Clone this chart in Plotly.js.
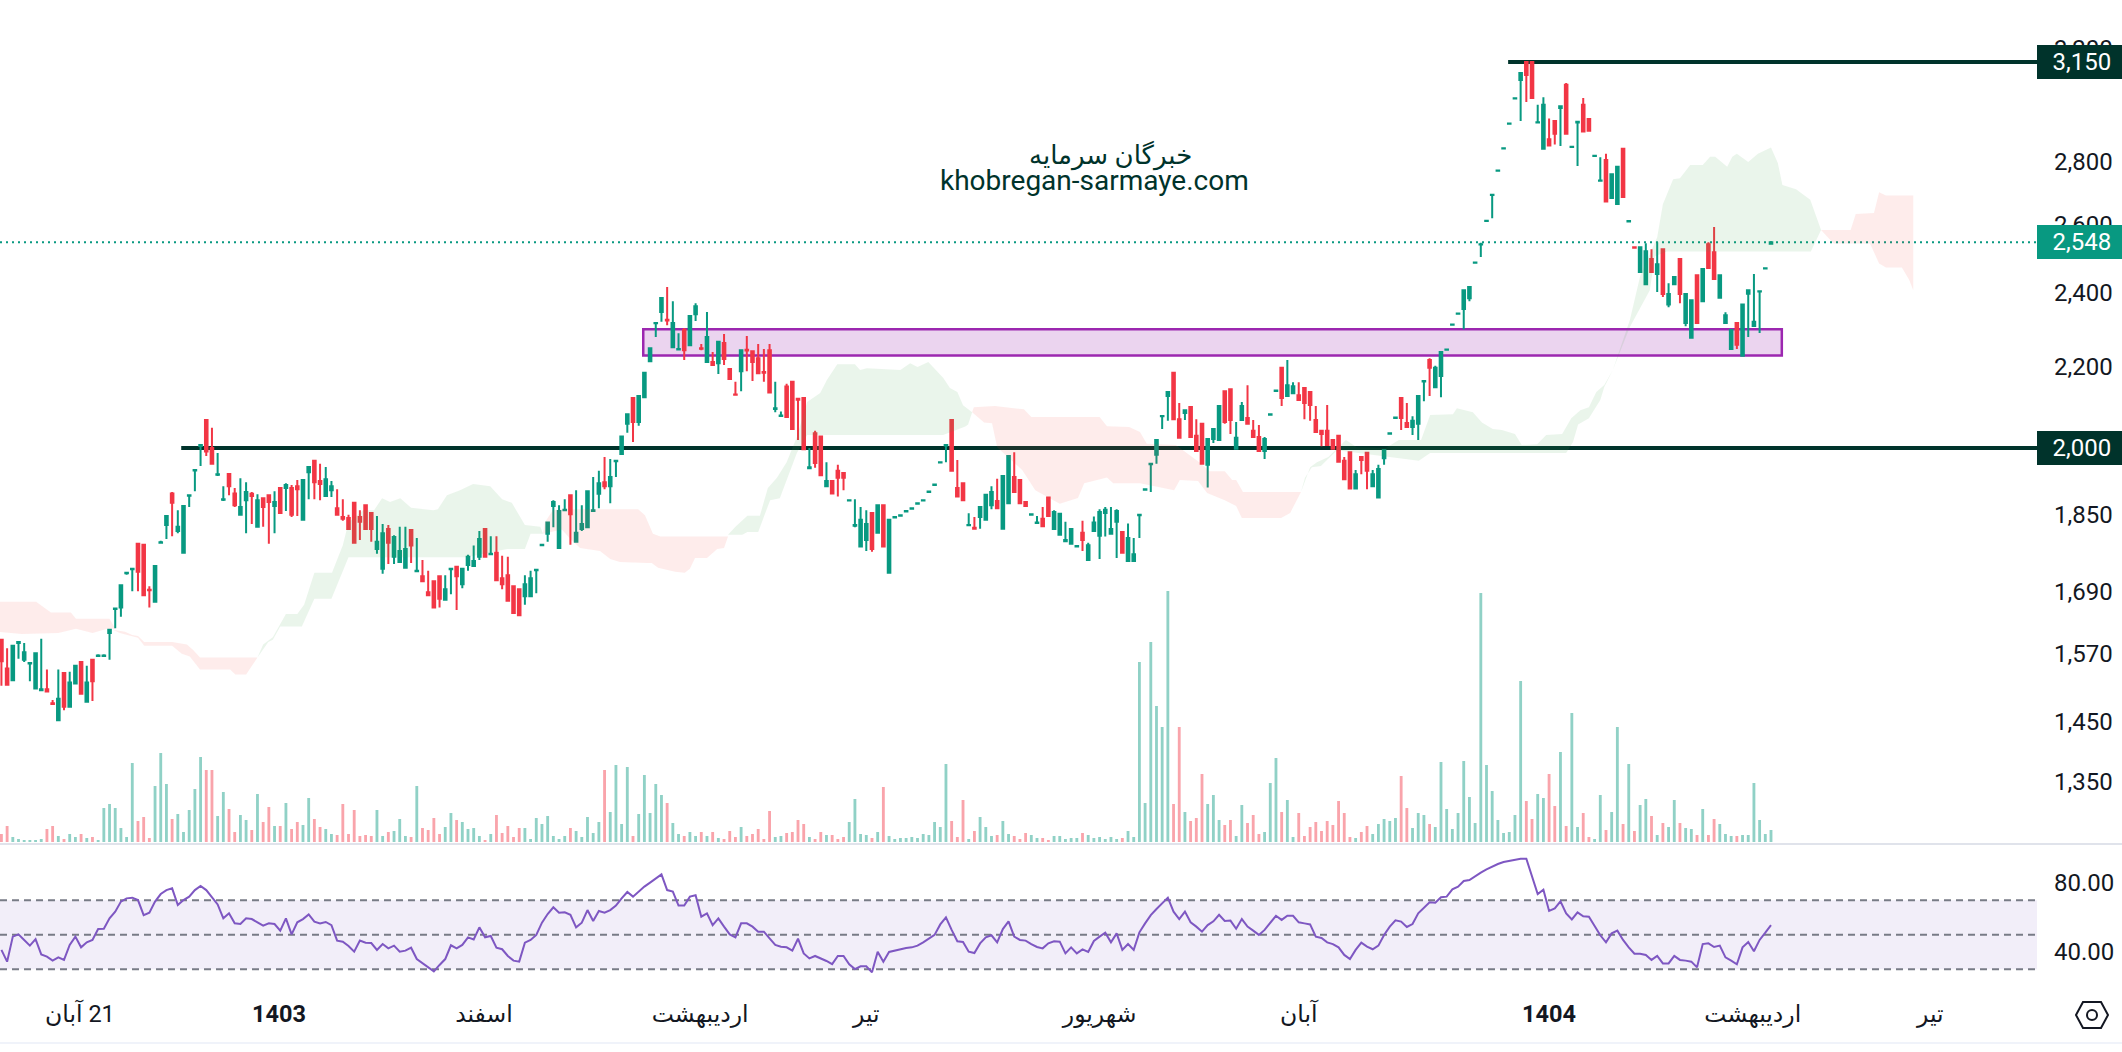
<!DOCTYPE html>
<html><head><meta charset="utf-8">
<script src="https://cdn.plot.ly/plotly-3.0.1.min.js"></script>
<style>html,body{margin:0;padding:0;background:#fff}#c{width:2122px;height:1052px}</style></head>
<body><div id="c"></div>
<script>
// [open, high, low, close]
const candles = [
[1596,1596,1512,1556],[1543,1580,1514,1514],[1522,1585,1522,1585],[1590,1592,1561,1592],[1559,1590,1555,1573],[1552,1554,1520,1553],[1507,1571,1507,1571],[1504,1598,1504,1506],[1506,1541,1502,1502],[1481,1487,1478,1480],
[1452,1541,1452,1489],[1535,1535,1469,1475],[1475,1537,1475,1518],[1516,1548,1516,1548],[1555,1555,1498,1498],[1484,1548,1484,1518],[1559,1559,1485,1520],[1566,1569,1564,1567],[1566,1569,1564,1567],[1609,1615,1559,1615],
[1655,1657,1618,1656],[1658,1702,1640,1702],[1726,1729,1723,1727],[1734,1737,1690,1735],[1787,1787,1690,1729],[1785,1785,1682,1682],[1693,1700,1658,1692],[1669,1741,1667,1741],[1789,1793,1787,1790],[1827,1846,1797,1846],
[1896,1899,1803,1875],[1814,1859,1809,1823],[1768,1868,1768,1868],[1891,1894,1866,1892],[1948,1951,1901,1949],[2005,2008,1958,2007],[2067,2067,1981,1992],[2000,2048,1963,1963],[1938,1988,1935,1939],[1882,1912,1879,1883],
[1940,1940,1892,1912],[1896,1908,1866,1870],[1849,1930,1849,1866],[1881,1921,1809,1899],[1895,1899,1829,1890],[1823,1894,1823,1881],[1885,1885,1823,1866],[1892,1892,1787,1877],[1868,1901,1809,1877],[1908,1908,1853,1853],
[1908,1919,1857,1915],[1908,1915,1844,1849],[1912,1926,1846,1905],[1838,1926,1838,1926],[1944,1956,1883,1956],[1970,1970,1883,1921],[1924,1963,1881,1917],[1890,1956,1890,1928],[1903,1924,1888,1912],[1863,1905,1849,1849],
[1844,1883,1836,1840],[1842,1849,1818,1818],[1875,1875,1787,1789],[1844,1859,1795,1834],[1870,1870,1818,1818],[1853,1853,1791,1818],[1776,1846,1766,1791],[1735,1829,1725,1809],[1818,1827,1745,1789],[1760,1805,1745,1801],
[1749,1823,1749,1772],[1737,1823,1737,1776],[1816,1816,1747,1783],[1730,1799,1729,1731],[1720,1753,1710,1710],[1688,1731,1682,1682],[1710,1710,1658,1658],[1720,1720,1658,1675],[1673,1722,1673,1694],[1734,1736,1684,1735],
[1739,1739,1653,1720],[1704,1735,1696,1735],[1743,1764,1731,1760],[1741,1783,1741,1751],[1760,1814,1753,1797],[1818,1818,1760,1760],[1765,1803,1765,1766],[1768,1803,1712,1712],[1716,1762,1694,1704],[1722,1760,1671,1671],
[1700,1700,1647,1647],[1694,1694,1643,1643],[1680,1722,1663,1704],[1680,1731,1680,1716],[1732,1734,1686,1733],[1784,1787,1782,1785],[1808,1832,1791,1832],[1868,1881,1822,1877],[1778,1870,1777,1857],[1859,1883,1857,1860],
[1892,1894,1785,1850],[1791,1903,1791,1810],[1818,1870,1814,1829],[1822,1901,1822,1901],[1857,1933,1857,1859],[1895,1947,1863,1919],[1921,1979,1905,1912],[1912,1974,1874,1933],[1969,1972,1933,1970],[1986,2027,1986,2027],
[2058,2081,2036,2081],[2121,2121,2014,2062],[2062,2126,2053,2126],[2123,2185,2123,2185],[2215,2249,2215,2249],[2316,2319,2279,2317],[2347,2386,2320,2386],[2326,2417,2311,2324],[2252,2377,2252,2317],[2246,2289,2244,2247],
[2298,2303,2218,2244],[2257,2336,2257,2336],[2341,2371,2322,2363],[2249,2260,2244,2248],[2213,2347,2213,2279],[2213,2239,2205,2205],[2210,2266,2182,2266],[2263,2287,2205,2221],[2195,2195,2169,2169],[2130,2162,2127,2129],
[2189,2244,2138,2244],[2245,2282,2189,2243],[2241,2241,2164,2213],[2223,2260,2184,2184],[2187,2247,2162,2185],[2244,2260,2135,2135],[2094,2162,2086,2096],[2077,2088,2074,2078],[2150,2157,2074,2074],[2162,2162,2045,2045],
[2119,2119,2019,2117],[2121,2121,1997,1997],[1953,2000,1953,1955],[2035,2041,1954,1965],[2027,2027,1937,1937],[1912,1967,1912,1924],[1924,1924,1896,1896],[1947,1961,1889,1931],[1942,1942,1903,1931],[1880,1883,1878,1881],
[1825,1883,1822,1827],[1781,1866,1781,1838],[1795,1859,1772,1829],[1853,1853,1770,1776],[1810,1870,1810,1870],[1870,1870,1781,1781],[1727,1838,1727,1838],[1843,1846,1842,1844],[1847,1850,1846,1848],[1856,1859,1855,1857],
[1862,1865,1861,1863],[1873,1876,1872,1874],[1880,1883,1879,1881],[1899,1902,1898,1900],[1915,1918,1914,1916],[1966,1969,1965,1967],[2006,2009,1967,2007],[2067,2067,1947,1947],[1908,1972,1889,1889],[1919,1919,1881,1881],
[1826,1852,1825,1827],[1821,1844,1819,1819],[1844,1866,1819,1866],[1838,1893,1838,1893],[1870,1912,1861,1899],[1879,1929,1863,1863],[1819,1935,1819,1935],[1874,1981,1874,1981],[1933,1990,1899,1899],[1926,1926,1874,1874],
[1877,1877,1868,1868],[1849,1852,1848,1850],[1831,1846,1829,1832],[1840,1866,1824,1824],[1887,1887,1846,1846],[1818,1859,1818,1855],[1806,1853,1806,1851],[1792,1834,1792,1795],[1787,1818,1787,1818],[1781,1784,1779,1782],
[1810,1836,1772,1795],[1753,1789,1753,1784],[1814,1845,1812,1832],[1804,1861,1755,1855],[1853,1866,1802,1860],[1808,1866,1808,1818],[1834,1861,1757,1857],[1812,1812,1768,1768],[1751,1830,1751,1799],[1751,1799,1751,1765],
[1848,1850,1799,1849],[1904,1907,1903,1905],[1962,1964,1899,1963],[1984,2019,1963,2019],[2076,2079,2045,2077],[2126,2136,2065,2136],[2185,2185,2069,2069],[2069,2109,2024,2024],[2084,2091,2067,2091],[2099,2101,2026,2026],
[2029,2069,1993,1993],[2058,2058,1963,1963],[1961,2021,1909,2021],[2021,2045,2012,2045],[2019,2101,2019,2101],[2138,2138,2058,2062],[2143,2143,2033,2067],[1998,2062,1998,2024],[2067,2111,2067,2101],[2072,2153,2058,2058],
[2041,2067,2026,2026],[2026,2055,1993,1993],[1993,2026,1974,2021],[2080,2083,2079,2081],[2139,2142,2138,2140],[2198,2198,2101,2121],[2126,2218,2126,2153],[2133,2161,2133,2151],[2128,2161,2116,2116],[2146,2146,2069,2109],
[2136,2136,2065,2104],[2067,2101,2038,2038],[2041,2041,2004,2033],[2041,2104,2007,2007],[2019,2019,1998,1998],[2029,2029,1968,1968],[1970,1979,1928,1928],[1990,1990,1907,1907],[1907,1949,1907,1939],[1979,1979,1939,1972],
[1989,1990,1905,1947],[1912,1949,1912,1939],[1887,1961,1887,1951],[1976,1995,1961,1995],[2034,2037,2033,2035],[2072,2075,2070,2073],[2121,2121,2043,2072],[2060,2109,2050,2050],[2050,2076,2031,2065],[2058,2126,2019,2126],
[2163,2166,2113,2164],[2218,2223,2126,2198],[2148,2203,2148,2198],[2177,2239,2123,2239],[2245,2248,2244,2246],[2312,2315,2311,2313],[2342,2345,2341,2343],[2355,2408,2300,2408],[2385,2417,2377,2417],[2487,2489,2486,2488],
[2541,2546,2504,2542],[2612,2616,2610,2613],[2693,2696,2621,2694],[2771,2774,2770,2772],[2845,2848,2844,2846],[2929,2932,2928,2930],[3017,3020,3016,3018],[3084,3109,2938,3109],[3150,3150,3005,3102],[3150,3150,3019,3019],
[2933,2995,2932,2934],[2844,3022,2844,2995],[2876,2947,2855,2855],[2938,2942,2858,2895],[2984,2990,2853,2990],[3066,3073,2895,2895],[2850,2853,2849,2851],[2933,2936,2787,2936],[2995,3019,2902,2902],[2945,2945,2905,2905],
[2820,2823,2819,2821],[2739,2816,2738,2740],[2807,2827,2673,2673],[2684,2760,2684,2760],[2665,2784,2665,2784],[2844,2844,2687,2687],[2611,2615,2609,2612],[2533,2535,2529,2531],[2460,2536,2458,2533],[2425,2545,2425,2521],
[2498,2527,2460,2460],[2454,2548,2403,2483],[2527,2527,2389,2397],[2368,2428,2360,2397],[2425,2446,2425,2446],[2498,2498,2371,2397],[2317,2397,2308,2397],[2277,2380,2277,2380],[2451,2451,2317,2317],[2377,2472,2377,2469],
[2542,2548,2472,2472],[2518,2594,2440,2440],[2387,2451,2384,2451],[2317,2346,2317,2338],[2247,2298,2247,2298],[2317,2317,2247,2258],[2229,2368,2229,2368],[2398,2408,2279,2408],[2309,2454,2309,2320],[2404,2408,2290,2405],
[2470,2473,2469,2471],[2543,2550,2542,2548]];

const volumes = [
8,16,5,3,2,2,2,3,13,16, 6,3,8,5,8,4,5,2,34,38, 34,14,5,79,21,25,4,56,89,58, 23,28,10,32,53,85,72,72,26,50,
33,10,27,22,12,48,20,35,16,16, 39,13,20,17,44,23,15,13,8,7, 38,8,32,6,7,6,32,6,10,11, 23,6,5,56,14,12,24,8,15,29,
22,20,13,14,6,2,8,27,9,16, 5,14,14,3,24,18,26,6,3,6, 14,11,5,25,9,20,72,30,77,18, 75,6,28,67,29,58,47,39,19,8,
6,10,6,10,6,10,4,3,11,5, 15,6,8,13,3,31,5,6,9,10, 22,18,5,3,10,7,7,3,5,20, 43,8,7,4,10,55,6,3,4,4,
5,4,8,7,20,15,78,21,5,42, 3,11,25,15,6,7,21,8,6,3, 9,7,4,4,2,6,6,3,4,4, 9,7,4,5,3,5,3,4,11,5,
180,39,200,136,115,251,38,115,30,21, 24,68,38,47,22,17,22,6,37,19, 27,8,10,59,84,30,42,5,29,6, 15,20,11,21,17,41,29,5,4,10,
16,8,18,23,21,24,66,34,14,29, 27,18,15,80,33,13,29,81,45,19, 249,77,51,22,9,10,27,161,41,23, 48,44,68,36,90,16,129,15,29,5,
3,47,12,30,115,18,78,11,37,43, 26,7,19,15,42,19,14,13,7,33, 7,23,18,8,6,6,7,7,59,22, 8,12];

const rsiValues = [
41.2,34.4,48.9,50.2,47.0,43.7,47.5,38.6,37.3,35.0, 36.9,35.4,44.1,48.9,42.7,45.6,47.0,53.3,53.5,59.5,
63.4,69.2,71.1,71.5,70.1,61.4,62.8,69.2,73.6,75.9, 76.9,67.2,70.1,72.1,75.9,78.3,75.9,71.7,67.6,59.5,
62.4,56.6,56.2,59.5,59.1,57.2,55.3,56.6,56.2,52.4, 59.5,50.2,57.2,59.1,61.8,57.6,56.6,57.4,55.6,46.6,
46.0,43.5,40.2,46.6,45.4,45.2,41.2,44.6,42.1,43.7, 40.2,40.8,42.5,35.9,33.4,31.1,28.8,32.5,35.9,43.9,
42.1,44.1,48.5,47.3,54.3,48.5,49.3,42.5,41.6,37.7, 35.0,34.4,45.4,47.0,49.9,57.0,62.0,65.9,62.8,63.0,
61.6,54.3,57.0,64.3,58.0,63.8,62.8,64.3,66.9,71.1, 74.8,72.1,75.0,77.9,80.2,82.7,85.0,75.9,75.0,66.9,
66.9,72.1,72.9,60.5,62.4,55.6,59.5,54.7,50.2,48.5, 56.6,56.6,54.7,51.8,51.8,47.9,44.1,43.1,42.7,40.8,
47.7,39.2,36.3,37.7,36.3,34.8,33.0,37.7,37.7,32.9, 30.1,31.7,31.7,28.2,40.2,34.4,40.0,40.8,41.4,42.3,
42.7,43.7,45.6,47.9,49.9,56.0,60.1,52.8,46.2,45.8, 40.2,39.4,45.0,48.5,49.7,45.6,53.3,57.8,48.9,47.0,
46.6,44.6,42.9,42.1,45.0,46.2,46.0,
39.2,42.7,39.2,41.5,40.0,46.4,48.9,51.2,45.6,50.8, 41.2,44.6,41.2,51.4,56.6,61.4,64.9,68.2,71.5,63.4,
59.1,63.4,57.2,54.7,51.8,55.6,57.8,61.6,58.0,58.2, 53.5,59.1,54.7,52.4,49.9,52.8,57.0,61.0,58.6,61.0,
61.0,57.2,56.6,56.0,48.9,48.1,45.6,44.6,42.7,38.3, 35.9,41.2,45.4,43.1,41.6,43.7,49.9,54.7,58.4,57.6,
54.5,56.2,62.4,65.7,68.8,68.6,71.7,72.1,76.3,77.9, 81.2,81.7,84.0,86.0,87.9,89.5,91.0,92.2,92.9,93.7,
94.1,94.1,83.7,73.6,76.1,63.8,65.3,69.4,62.4,58.9, 63.0,60.7,60.5,54.7,49.7,45.6,50.8,52.4,47.0,42.7,
39.0,39.0,38.3,35.4,37.7,33.4,33.4,37.7,35.4,35.0, 34.4,31.1,44.6,45.0,42.9,43.7,36.9,35.0,32.9,42.7,
45.8,40.4,47.0,51.2,55.6];

// Ichimoku cloud edges, section by section: bar positions and prices
const redA_x1=[-0.3,6.1,8.7,12.2,13.1,19,20], redA_p1=[1669,1669,1648,1648,1636,1636,1617];
const redA_x2=[-0.3,3.6,10,13.1,16,18.6,20], redA_p2=[1611,1607,1609,1617,1609,1617,1617];
const redB_x1=[19.6,21.7,23,24,25.1,30,32.6,33.7,34.9,45], redB_p1=[1615,1611,1605,1603,1592,1592,1587,1577,1563,1563];
const redB_x2=[19.6,20.8,22.3,24,25.1,30,31.7,33.1,34.9,40.2,41.1,43,45], redB_p2=[1615,1609,1605,1600,1585,1585,1570,1565,1541,1541,1532,1532,1563];
const greenA_x1=[45,46,47.7,50,52,53.2,55,58.1,60,61,63.6,65.5,66.9,68.3,70.1,72,75.9,76.7,78.3,80.6,82.9,85.9,88,89.7,92,94.7,95.2];
const greenA_p1=[1563,1587,1601,1645,1645,1663,1727,1727,1784,1832,1859,1859,1885,1877,1885,1864,1859,1861,1892,1903,1917,1912,1883,1875,1827,1823,1808];
const greenA_x2=[45,46.9,47.7,49,52.8,55,58,61,81.8,86.4,88.9,92,93,95.2];
const greenA_p2=[1563,1592,1596,1621,1621,1675,1675,1759,1759,1770,1776,1776,1808,1808];
const redC_x1=[95.2,95.5,96.9,98.7,111.9,113.1,114.5,115.8,126.8,127.7], redC_p1=[1808,1832,1859,1861,1861,1848,1808,1802,1802,1802];
const redC_x2=[95.2,98.5,100,101.7,105.2,107,108.7,113.5,114.3,115.4,118.4,120.1,121,121.9,124,125.8,127,127.7];
const redC_p2=[1808,1817,1797,1778,1772,1755,1749,1747,1747,1737,1729,1727,1735,1757,1757,1776,1778,1802];
const greenB_x1=[127.7,129,131.1,133.3,134.7,136.3,138,139.8,141.6,143.9,145.1,146.9,150,150.9,152.1,158,159.7,161,162.9,165.5,166.7,168,169,170.6];
const greenB_p1=[1806,1823,1847,1847,1908,1931,1967,2026,2111,2134,2167,2207,2207,2192,2197,2192,2210,2200,2213,2172,2146,2136,2103,2086];
const greenB_x2=[127.7,130.2,131.1,133,135.1,136.8,139.8,141.6,165.5,169.4,169.9,170.6];
const greenB_p2=[1806,1806,1812,1812,1881,1885,1988,2031,2031,2051,2056,2086];
const redD_x1=[170.6,170.9,174.6,179.7,181,193,194.3,198.2,200.1,201.3,206.4,210.7,212.3,215,216.3,217,218.2,228.4];
const redD_p1=[2086,2098,2101,2093,2074,2074,2052,2050,2038,2010,2007,1965,1946,1946,1926,1926,1899,1899];
const redD_x2=[170.6,172.7,174.1,175,179.4,181.7,186,189.2,190.3,194.3,195.4,200.1,206.1,207.1,210.3,211.9,215,217,218,224.9,226.5,228.4];
const redD_p2=[2086,2061,2059,2002,1949,1903,1873,1886,1919,1932,1919,1919,1903,1926,1924,1897,1881,1868,1842,1842,1853,1899];
const greenC_x1=[228.4,230,231.2,233.2,236.3,238.2,243.3,245.6,249.5,251.1,255.1,255.8,258.6,260.2,262.1,263.7,266,267.2,269.9,271.5,274.3,275.9,277.5,279,280.3,281.7,283.2,286.2,288,291,292,293.8,295,296.8,299,300.3,301.2,303.3,304.2,305,307,308.7,311,312.2,313,315.4,317.9,319.8];
const greenC_p1=[1899,1955,1967,1979,2019,2002,2000,2019,2019,2079,2081,2096,2086,2061,2045,2043,2033,2007,2009,2031,2033,2071,2091,2098,2136,2154,2192,2325,2448,2563,2664,2744,2747,2790,2790,2817,2817,2784,2817,2827,2800,2827,2848,2797,2725,2712,2678,2585];
const greenC_x2=[228.4,229.1,230.3,231.9,233.2,234.7,249.1,251.1,275,276.2,277.1,279,281,281.7,283.2,286.2,289.7,290.6,292.7,318,319.8];
const greenC_p2=[1899,1931,1955,1958,1976,1995,1970,1988,1988,2014,2056,2071,2116,2149,2192,2306,2408,2506,2520,2520,2585];
const redE_x1=[319.8,325,325.9,329.1,330,331.2,336], redE_p1=[2585,2585,2634,2637,2702,2692,2692];
const redE_x2=[319.8,322,328.4,330,331.2,334,335.3,336], redE_p2=[2585,2544,2544,2485,2473,2473,2437,2408];

const priceTicks = [1350,1450,1570,1690,1850,2200,2400,2600,2800,3200];
const priceTickText = ['1,350','1,450','1,570','1,690','1,850','2,200','2,400','2,600','2,800','3,200'];
const rsiTicks = [40,80];
const rsiTickText = ['40.00','80.00'];
const timeTicks = [13.8,48.8,84.8,122.8,152,193,228,272,307.8,339];
const timeTickText = ['\u200F21 آبان','<b>1403</b>','اسفند','اردیبهشت','تیر','شهریور','آبان','<b>1404</b>','اردیبهشت','تیر'];
const supportLevel = 2000, peakLevel = 3150, lastLevel = 2548;
const zoneHigh = 2300, zoneLow = 2230;
const bandHigh = 70, bandMid = 50, bandLow = 30;

const UP='#089981', DOWN='#F23645', DARK='#00332B', INK='#131722';
const FONT='Roboto, "Noto Sans", "DejaVu Sans", sans-serif';
const W=2122, H=1052;
const fy=y=>1-y/H, fx=x=>x/W;
const xs=candles.map((_,i)=>i);
const xStart=-0.25, xEnd=357.75;

function cloud(x1,p1,x2,p2,col){
  return {type:'scatter',mode:'lines',x:x1.concat(x2.slice().reverse()),y:p1.concat(p2.slice().reverse()),
    xaxis:'x',yaxis:'y',fill:'toself',fillcolor:col,line:{width:0},hoverinfo:'skip',showlegend:false};
}
const G='rgba(67,160,71,0.11)', R='rgba(244,67,54,0.10)';
const traces=[
  cloud(redA_x1,redA_p1,redA_x2,redA_p2,R),
  cloud(redB_x1,redB_p1,redB_x2,redB_p2,R),
  cloud(greenA_x1,greenA_p1,greenA_x2,greenA_p2,G),
  cloud(redC_x1,redC_p1,redC_x2,redC_p2,R),
  cloud(greenB_x1,greenB_p1,greenB_x2,greenB_p2,G),
  cloud(redD_x1,redD_p1,redD_x2,redD_p2,R),
  cloud(greenC_x1,greenC_p1,greenC_x2,greenC_p2,G),
  cloud(redE_x1,redE_p1,redE_x2,redE_p2,R),
  {type:'candlestick',x:xs,open:candles.map(c=>c[0]),high:candles.map(c=>c[1]),low:candles.map(c=>c[2]),close:candles.map(c=>c[3]),
   xaxis:'x',yaxis:'y',whiskerwidth:0,hoverinfo:'skip',showlegend:false,
   increasing:{line:{color:UP,width:2},fillcolor:UP},decreasing:{line:{color:DOWN,width:2},fillcolor:DOWN}},
  {type:'bar',x:xs,y:volumes,xaxis:'x',yaxis:'y3',width:0.5,hoverinfo:'skip',showlegend:false,
   marker:{color:candles.map(c=>c[3]>=c[0]?'rgba(8,153,129,0.45)':'rgba(242,54,69,0.45)'),line:{width:0}}},
  {type:'scatter',mode:'lines',x:xs,y:rsiValues,xaxis:'x',yaxis:'y2',line:{color:'#7E57C2',width:2},hoverinfo:'skip',showlegend:false}
];

const hex=[[2076,1015],[2083,1002],[2101,1002],[2108,1015],[2101,1028],[2083,1028]];
const hexPath='M'+hex.map(p=>fx(p[0])+' '+fy(p[1])).join('L')+'Z';
function hline(level,x0,yref,col,width,dash){
  return {type:'line',xref:'x',yref:yref,x0:x0,x1:xEnd,y0:level,y1:level,layer:'below',line:{color:col,width:width,dash:dash||'solid'}};
}
const shapes=[
  {type:'rect',xref:'x',yref:'y',x0:112.8,x1:312.9,y0:zoneLow,y1:zoneHigh,layer:'below',fillcolor:'rgba(156,39,176,0.2)',line:{color:'#9C27B0',width:2.5}},
  hline(supportLevel,31.6,'y',DARK,4),
  hline(peakLevel,264.8,'y',DARK,4),
  hline(lastLevel,xStart,'y',UP,2,'2px,4px'),
  {type:'rect',xref:'x',yref:'y2',x0:xStart,x1:xEnd,y0:bandLow,y1:bandHigh,layer:'below',fillcolor:'rgba(126,87,194,0.1)',line:{width:0}},
  hline(bandHigh,xStart,'y2','#787B86',2,'7px,5px'),
  hline(bandMid,xStart,'y2','#787B86',2,'7px,5px'),
  hline(bandLow,xStart,'y2','#787B86',2,'7px,5px'),
  {type:'line',xref:'paper',yref:'paper',x0:0,x1:1,y0:fy(844),y1:fy(844),line:{color:'#E0E3EB',width:2}},
  {type:'line',xref:'paper',yref:'paper',x0:0,x1:1,y0:fy(1043),y1:fy(1043),line:{color:'#F0F3FA',width:2}},
  {type:'path',xref:'paper',yref:'paper',path:hexPath,line:{color:INK,width:2}},
  {type:'circle',xref:'paper',yref:'paper',x0:fx(2087),x1:fx(2097),y0:fy(1020),y1:fy(1010),line:{color:INK,width:2}}
];
function tag(level,col,label){
  return {xref:'paper',yref:'y',x:1,y:Math.log10(level),xanchor:'right',yanchor:'middle',text:label,showarrow:false,
    width:85,height:34,bgcolor:col,borderpad:0,borderwidth:0,align:'center',valign:'middle',font:{family:FONT,size:24,color:'#fff'}};
}
const annotations=[
  tag(peakLevel,DARK,'\u20093,150'),tag(supportLevel,DARK,'\u20092,000'),tag(lastLevel,UP,'\u20092,548'),
  {xref:'paper',yref:'paper',x:fx(1110),y:fy(155),xanchor:'center',yanchor:'middle',text:'خبرگان سرمایه',showarrow:false,font:{family:FONT,size:26,color:DARK}},
  {xref:'paper',yref:'paper',x:fx(1094),y:fy(180),xanchor:'center',yanchor:'middle',text:'khobregan-sarmaye.com',showarrow:false,font:{family:FONT,size:28,color:DARK}}
];

const layout={
  width:W,height:H,autosize:false,margin:{l:0,r:0,t:0,b:0},paper_bgcolor:'#fff',plot_bgcolor:'rgba(0,0,0,0)',showlegend:false,boxgap:0.35,hovermode:false,
  xaxis:{domain:[0,2037/W],range:[xStart,xEnd],anchor:'y2',showgrid:false,zeroline:false,showline:false,ticks:'',rangeslider:{visible:false},
    tickmode:'array',tickvals:timeTicks,ticktext:timeTickText,tickangle:0,tickfont:{family:FONT,size:23.5,color:INK}},
  yaxis:{domain:[fy(843),1],type:'log',range:[3.09921,3.52993],side:'right',anchor:'x',showgrid:false,zeroline:false,showline:false,ticks:'',
    tickmode:'array',tickvals:priceTicks,ticktext:priceTickText,tickfont:{family:FONT,size:24,color:INK},ticklabelstandoff:16},
  yaxis2:{domain:[fy(997),fy(845)],range:[13.91,102.03],side:'right',anchor:'x',showgrid:false,zeroline:false,showline:false,ticks:'',
    tickmode:'array',tickvals:rsiTicks,ticktext:rsiTickText,tickfont:{family:FONT,size:24,color:INK},ticklabelstandoff:16},
  yaxis3:{domain:[fy(842),fy(590)],range:[0,252],anchor:'x',showgrid:false,zeroline:false,showline:false,showticklabels:false,ticks:''},
  shapes:shapes,annotations:annotations
};
Plotly.newPlot('c',traces,layout,{displayModeBar:false,staticPlot:true});
</script></body></html>
